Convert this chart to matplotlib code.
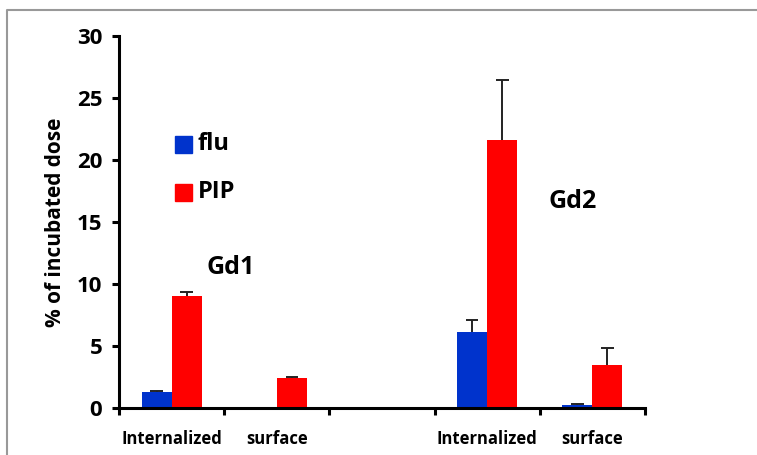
import matplotlib
matplotlib.use("Agg")
import matplotlib.pyplot as plt
import numpy as np
from matplotlib.lines import Line2D
from matplotlib.patches import Rectangle

plt.rcParams['font.family'] = ['Open Sans', 'DejaVu Sans']
plt.rcParams['font.weight'] = 'bold'

categories = ["Internalized", "surface", "", "Internalized", "surface"]
flu = [1.3, 0.0, np.nan, 6.1, 0.25]
flu_err = [0.1, 0.0, 0.0, 1.0, 0.1]
pip = [9.0, 2.4, np.nan, 21.6, 3.45]
pip_err = [0.35, 0.12, 0.0, 4.8, 1.4]
yticks = [0, 5, 10, 15, 20, 25, 30]
series_names = ["flu", "PIP"]
group_labels = ["Gd1", "Gd2"]

blue = "#0033CC"
red = "#FF0000"

fig = plt.figure(figsize=(7.57, 4.55), dpi=100)
W, H = 757, 455
ax = fig.add_axes([119 / W, (H - 408) / H, (645 - 119) / W, (408 - 35.7) / H])

x = np.arange(len(categories))
bw = 0.286
cap = 0.06
ax.bar(x - bw / 2, flu, bw, color=blue, zorder=2)
ax.bar(x + bw / 2, pip, bw, color=red, zorder=2)
for offs, vals, errs in [(-bw / 2, flu, flu_err), (bw / 2, pip, pip_err)]:
    for xi, v, e in zip(x + offs, vals, errs):
        if np.isfinite(v) and e > 0:
            ax.vlines(xi, v, v + e, color='#222222', linewidth=1.4, zorder=3)
            ax.hlines(v + e, xi - cap, xi + cap, color='#222222', linewidth=1.4, zorder=3)

ax.set_xlim(-0.5, len(categories) - 0.5)
ax.set_ylim(0, 30)
ax.set_yticks(yticks)
ax.set_yticklabels([str(t) for t in yticks], fontsize=16, fontweight='bold')
ax.set_xticks(np.arange(len(categories) + 1) - 0.5)
ax.set_xticklabels([])
ax.set_xticks(x, minor=True)
ax.set_xticklabels(categories, minor=True, fontsize=12, fontweight='bold')
ax.tick_params(axis='x', which='minor', length=0, pad=16)
ax.tick_params(axis='x', which='major', direction='out', length=5, width=2.2)
ax.tick_params(axis='y', direction='out', length=5, width=2.2, pad=7)
for s in ['top', 'right']:
    ax.spines[s].set_visible(False)
for s in ['left', 'bottom']:
    ax.spines[s].set_linewidth(2.2)
ax.set_ylabel("% of incubated dose", fontsize=15, fontweight='bold', labelpad=8)

def fx(px):
    return (px - 119) / 105 - 0.5
def fy(py):
    return (408 - py) / (408 - 35.7) * 30

for name, col, cy in [(series_names[0], blue, 144.5), (series_names[1], red, 192.5)]:
    fig.patches.append(Rectangle((175 / W, (H - cy - 8.5) / H), 17 / W, 17 / H,
                                 transform=fig.transFigure, color=col, figure=fig))
    fig.text(198 / W, (H - cy) / H, name, fontsize=17, fontweight='bold',
             va='center', ha='left')

ax.text(fx(230), fy(268), group_labels[0], fontsize=18, fontweight='bold',
        ha='center', va='center')
ax.text(fx(572), fy(202), group_labels[1], fontsize=18, fontweight='bold',
        ha='center', va='center')

fig.add_artist(Line2D([7 / W, 7 / W, 1.0], [0.0, (H - 10) / H, (H - 10) / H],
                      transform=fig.transFigure, color='#999999', linewidth=1.5))

fig.savefig("out.png", dpi=100)
